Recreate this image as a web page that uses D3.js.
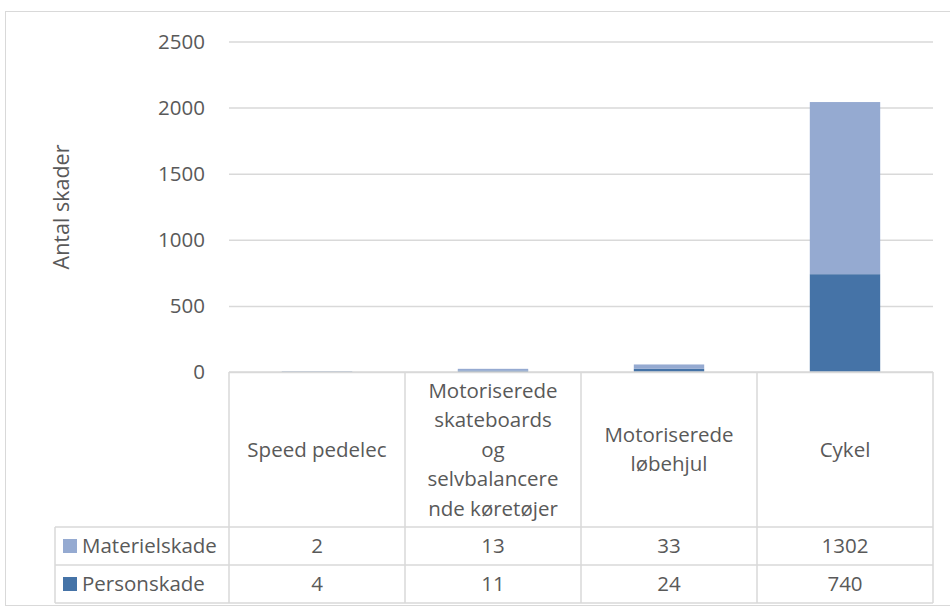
<!DOCTYPE html>
<html><head><meta charset="utf-8">
<script src="https://cdn.jsdelivr.net/npm/d3@7"></script>
<style>body{margin:0;background:#fff}svg{display:block}</style>
</head><body>
<svg id="c" width="950" height="608"></svg>
<script>
const categories = ["Speed pedelec","Motoriserede skateboards og selvbalancerende køretøjer","Motoriserede løbehjul","Cykel"];
const categoryLines = [["Speed pedelec"],["Motoriserede","skateboards","og","selvbalancere","nde køretøjer"],["Motoriserede","løbehjul"],["Cykel"]];
const seriesNames = ["Materielskade","Personskade"];
const materielskade = [2,13,33,1302];
const personskade = [4,11,24,740];
const yTicks = [0,500,1000,1500,2000,2500];
const colors = {Materielskade:"#95aad1", Personskade:"#4573a7"};

(function(){
const svg = d3.select("#c");
const font = "'Open Sans', 'Noto Sans', sans-serif";
const txt = "#595959", grid = "#d9d9d9";
const fs = 20.5;

svg.append("rect").attr("x",5.5).attr("y",11.5).attr("width",950).attr("height",594)
  .attr("fill","#fff").attr("stroke",grid);

const pLeft=229, pRight=933, pTop=41.5, base=372;
const x = d3.scaleBand().domain(categories).range([pLeft,pRight]).paddingInner(0).paddingOuter(0);
const y = d3.scaleLinear().domain([0,2500]).range([base,pTop]);

const ax = svg.append("g").attr("transform",`translate(${pLeft},0)`)
  .call(d3.axisLeft(y).tickValues(yTicks).tickFormat(d3.format("d")).tickSize(-(pRight-pLeft)).tickPadding(20));
ax.select(".domain").remove();
ax.selectAll(".tick line").attr("stroke",grid).attr("stroke-width",1.5);
ax.selectAll(".tick text").attr("fill",txt).attr("font-family",font).attr("font-size",fs)
  .attr("x",-24);

const rows = categories.map((c,i)=>({cat:c, Personskade:personskade[i], Materielskade:materielskade[i]}));
const stack = d3.stack().keys(["Personskade","Materielskade"])(rows);
const bw = x.bandwidth()*0.4;
svg.append("g").selectAll("g").data(stack).join("g").attr("fill",d=>colors[d.key])
  .selectAll("rect").data(d=>d).join("rect")
  .attr("x",d=>x(d.data.cat)+(x.bandwidth()-bw)/2)
  .attr("width",bw)
  .attr("y",d=>y(d[1]))
  .attr("height",d=>y(d[0])-y(d[1]));

svg.append("text").attr("transform","translate(69,207) rotate(-90)").attr("text-anchor","middle")
  .attr("fill",txt).attr("font-family",font).attr("font-size",21.5).text("Antal skader");

const hdrBottom=527, r1=565, r2=603, tblLeft=55;
const g = svg.append("g").attr("stroke",grid).attr("stroke-width",1.5);
g.append("line").attr("x1",pLeft).attr("x2",pRight).attr("y1",base).attr("y2",base);
[hdrBottom,r1,r2].forEach(yy=>g.append("line").attr("x1",tblLeft).attr("x2",pRight).attr("y1",yy).attr("y2",yy));
categories.forEach(c=>g.append("line").attr("x1",x(c)).attr("x2",x(c)).attr("y1",base).attr("y2",r2));
g.append("line").attr("x1",pRight).attr("x2",pRight).attr("y1",base).attr("y2",r2);
g.append("line").attr("x1",tblLeft).attr("x2",tblLeft).attr("y1",hdrBottom).attr("y2",r2);

const lh=29.5, hc=(base+hdrBottom)/2;
categories.forEach((c,i)=>{
  const lines=categoryLines[i];
  const t=svg.append("text").attr("text-anchor","middle").attr("fill",txt).attr("font-family",font).attr("font-size",fs);
  lines.forEach((l,j)=>t.append("tspan").attr("x",x(c)+x.bandwidth()/2)
    .attr("y",hc+(j-(lines.length-1)/2)*lh).attr("dy","0.35em").text(l));
});

const series=[materielskade,personskade];
[hdrBottom,r1].forEach((yy,k)=>{
  const cy=yy+19;
  svg.append("rect").attr("x",63).attr("y",cy-7).attr("width",14).attr("height",14).attr("fill",colors[seriesNames[k]]);
  svg.append("text").attr("x",82).attr("y",cy).attr("dy","0.35em").attr("fill",txt).attr("font-family",font).attr("font-size",fs).text(seriesNames[k]);
  categories.forEach((c,i)=>svg.append("text").attr("x",x(c)+x.bandwidth()/2).attr("y",cy).attr("dy","0.35em")
    .attr("text-anchor","middle").attr("fill",txt).attr("font-family",font).attr("font-size",fs).text(series[k][i]));
});
})();
</script>
</body></html>
